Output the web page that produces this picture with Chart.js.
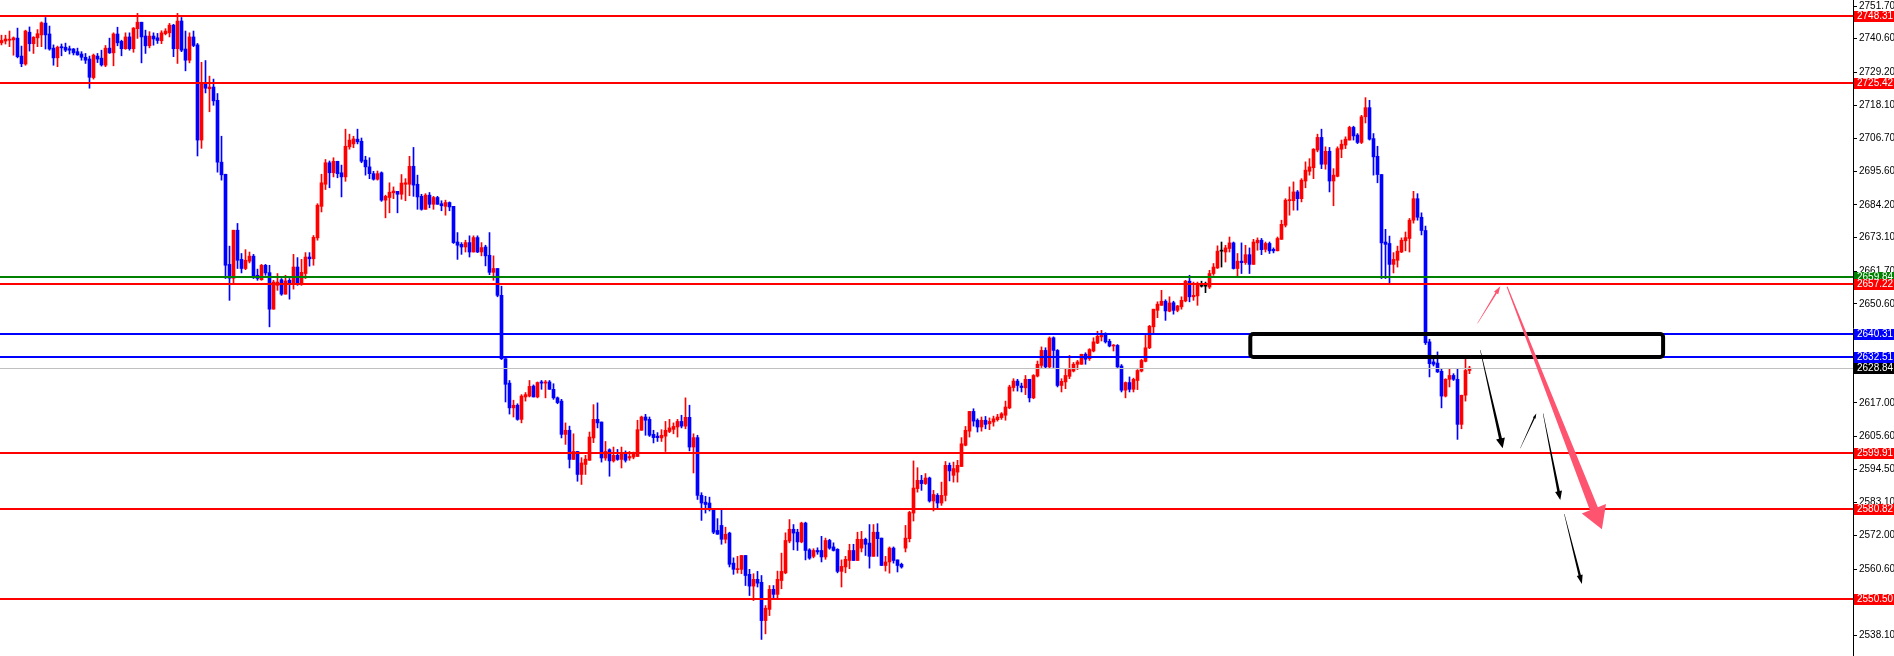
<!DOCTYPE html>
<html lang="en">
<head>
  <meta charset="UTF-8" />
  <title>XAUUSD H1</title>
  <script src="https://cdn.jsdelivr.net/npm/chart.js@4.4.0/dist/chart.umd.min.js"></script>
  <style>
    html, body { margin: 0; padding: 0; background: #ffffff; }
    #wrap { width: 1894px; height: 656px; position: relative; }
  </style>
</head>
<body>
  <div id="wrap"><canvas id="chart"></canvas></div>
  <script>
    // candle values, one entry per bar
    const opens = [
      2739.2, 2739.8, 2740.1, 2740.2, 2740.8, 2734.7, 2732.0, 2742.8, 2738.9, 2740.9,
      2741.9, 2745.9, 2742.2, 2737.4, 2734.1, 2737.9, 2737.7, 2737.2, 2737.1, 2736.2,
      2735.4, 2734.3, 2733.7, 2727.4, 2734.7, 2734.0, 2731.6, 2737.4, 2735.8, 2742.2,
      2739.7, 2737.2, 2741.2, 2737.2, 2744.0, 2746.2, 2741.5, 2738.2, 2741.5, 2740.9,
      2739.9, 2742.3, 2742.6, 2745.2, 2737.2, 2746.6, 2737.1, 2733.3, 2741.2, 2738.5,
      2706.2, 2725.4, 2723.6, 2724.2, 2719.7, 2698.7, 2694.6, 2664.0, 2659.3, 2675.6,
      2665.7, 2662.6, 2665.1, 2666.8, 2660.3, 2658.8, 2663.7, 2661.2, 2648.8, 2656.9,
      2658.8, 2653.9, 2658.6, 2657.3, 2663.1, 2657.3, 2660.9, 2666.5, 2665.9, 2673.0,
      2683.7, 2691.2, 2698.5, 2695.1, 2699.0, 2695.1, 2693.7, 2703.9, 2704.9, 2706.5,
      2705.8, 2699.4, 2697.1, 2694.8, 2692.9, 2695.1, 2685.8, 2686.7, 2688.3, 2688.8,
      2687.8, 2691.2, 2691.2, 2697.3, 2691.2, 2687.1, 2682.7, 2687.5, 2684.4, 2686.7,
      2684.6, 2683.7, 2685.0, 2683.7, 2671.6, 2670.8, 2669.9, 2671.4, 2668.2, 2673.1,
      2668.2, 2669.9, 2667.1, 2661.3, 2662.6, 2653.5, 2632.0, 2623.7, 2615.3, 2616.2,
      2611.4, 2619.0, 2619.3, 2622.7, 2619.0, 2624.1, 2623.7, 2624.1, 2621.6, 2618.7,
      2617.6, 2606.3, 2607.7, 2597.8, 2600.5, 2592.7, 2596.1, 2597.5, 2605.1, 2611.4,
      2610.5, 2598.3, 2601.1, 2597.3, 2599.2, 2597.8, 2600.1, 2598.3, 2598.6, 2598.8,
      2607.7, 2612.2, 2611.4, 2606.3, 2605.7, 2605.1, 2605.7, 2607.3, 2608.0, 2608.8,
      2610.7, 2609.1, 2612.1, 2602.0, 2605.2, 2585.6, 2583.3, 2583.0, 2581.1, 2573.7,
      2575.4, 2570.7, 2572.8, 2562.6, 2560.4, 2560.5, 2565.2, 2558.8, 2554.8, 2557.1,
      2556.1, 2543.1, 2546.9, 2553.7, 2552.0, 2556.7, 2559.3, 2570.1, 2574.1, 2573.1,
      2569.8, 2576.2, 2567.1, 2564.9, 2566.9, 2566.9, 2564.7, 2570.3, 2568.1, 2567.3,
      2559.8, 2561.3, 2563.5, 2566.9, 2563.5, 2567.7, 2570.7, 2569.4, 2564.9, 2573.1,
      2571.1, 2561.8, 2563.0, 2567.7, 2563.7, 2562.2, 2567.7, 2570.9, 2579.6, 2587.9,
      2590.7, 2589.6, 2591.5, 2583.7, 2585.6, 2583.0, 2585.6, 2595.8, 2592.4, 2593.5,
      2595.4, 2602.6, 2607.4, 2614.1, 2611.1, 2608.8, 2611.1, 2609.9, 2610.5, 2611.3,
      2612.0, 2612.8, 2615.3, 2622.2, 2624.4, 2622.7, 2622.1, 2625.0, 2618.7, 2626.1,
      2629.7, 2634.8, 2629.2, 2639.1, 2634.8, 2622.9, 2624.1, 2626.0, 2627.8, 2630.1,
      2630.1, 2633.5, 2632.0, 2634.6, 2637.3, 2639.4, 2640.5, 2637.9, 2636.3, 2636.5,
      2629.5, 2621.3, 2623.9, 2621.6, 2624.6, 2627.8, 2631.1, 2635.7, 2642.8, 2648.4,
      2650.1, 2651.5, 2648.1, 2651.0, 2648.4, 2649.6, 2651.6, 2658.3, 2653.0, 2653.3,
      2656.6, 2656.6, 2656.3, 2660.9, 2662.8, 2668.5, 2668.2, 2669.4, 2671.3, 2662.6,
      2665.1, 2664.6, 2667.3, 2664.0, 2671.3, 2672.2, 2669.1, 2671.1, 2669.1, 2668.6,
      2672.5, 2677.3, 2685.6, 2685.6, 2688.6, 2686.3, 2692.3, 2695.6, 2696.8, 2702.8,
      2707.1, 2698.0, 2702.4, 2692.3, 2693.9, 2703.1, 2704.5, 2706.2, 2710.5, 2707.9,
      2705.4, 2714.1, 2717.2, 2706.7, 2700.7, 2694.5, 2671.6, 2671.1, 2664.0, 2665.4,
      2668.2, 2672.0, 2672.8, 2679.0, 2686.3, 2680.0, 2675.5, 2637.7, 2630.9, 2630.5,
      2627.7, 2619.3, 2625.0, 2626.3, 2625.0, 2609.7, 2619.6, 2628.0
    ];
    const highs = [
      2741.8, 2741.8, 2743.2, 2741.2, 2744.2, 2738.1, 2743.5, 2744.6, 2741.3, 2743.7,
      2746.3, 2747.8, 2744.9, 2738.5, 2738.1, 2738.8, 2739.1, 2738.1, 2737.3, 2737.4,
      2736.2, 2735.6, 2734.7, 2735.4, 2735.6, 2736.7, 2738.3, 2740.8, 2742.6, 2744.5,
      2740.1, 2742.6, 2742.6, 2744.4, 2749.2, 2746.2, 2743.5, 2743.0, 2742.6, 2742.4,
      2743.3, 2744.0, 2745.8, 2745.5, 2749.2, 2747.8, 2743.2, 2742.6, 2743.2, 2739.0,
      2732.6, 2733.2, 2727.9, 2726.9, 2722.0, 2707.5, 2694.6, 2670.2, 2675.6, 2677.9,
      2667.7, 2669.0, 2668.2, 2667.4, 2662.4, 2664.0, 2664.0, 2663.7, 2658.6, 2660.9,
      2659.2, 2660.3, 2659.2, 2667.4, 2666.3, 2665.7, 2668.0, 2668.0, 2673.8, 2684.6,
      2694.6, 2699.6, 2699.1, 2700.2, 2699.0, 2697.7, 2709.9, 2708.2, 2707.5, 2709.9,
      2706.9, 2700.7, 2700.2, 2695.6, 2695.7, 2695.4, 2687.5, 2691.7, 2690.3, 2688.8,
      2694.5, 2693.1, 2700.7, 2703.7, 2694.3, 2687.8, 2688.0, 2688.4, 2687.1, 2687.1,
      2685.6, 2685.8, 2685.2, 2683.7, 2674.8, 2671.4, 2672.2, 2673.7, 2673.7, 2673.7,
      2671.4, 2670.5, 2674.8, 2666.9, 2662.6, 2656.6, 2632.0, 2624.6, 2617.9, 2616.7,
      2619.8, 2620.5, 2624.6, 2623.1, 2624.1, 2624.6, 2624.6, 2624.6, 2623.5, 2619.0,
      2618.2, 2610.2, 2609.1, 2606.5, 2600.5, 2598.4, 2599.2, 2607.1, 2616.4, 2617.0,
      2610.5, 2603.9, 2601.4, 2602.0, 2601.2, 2602.0, 2600.7, 2600.5, 2600.3, 2611.1,
      2612.5, 2613.1, 2612.2, 2607.7, 2606.9, 2607.9, 2610.7, 2611.4, 2610.2, 2611.4,
      2612.8, 2618.7, 2616.2, 2606.5, 2606.0, 2586.5, 2585.3, 2585.0, 2581.1, 2577.7,
      2580.7, 2574.8, 2573.1, 2564.4, 2564.9, 2565.2, 2565.2, 2560.5, 2559.0, 2559.8,
      2558.4, 2548.2, 2555.0, 2555.0, 2559.9, 2566.0, 2572.9, 2577.4, 2575.7, 2574.1,
      2576.5, 2576.5, 2567.5, 2567.5, 2567.8, 2571.7, 2571.1, 2570.7, 2569.5, 2567.5,
      2563.7, 2564.9, 2569.0, 2569.0, 2573.1, 2573.4, 2571.1, 2575.7, 2575.7, 2576.0,
      2571.1, 2564.9, 2568.1, 2568.1, 2563.7, 2562.6, 2575.4, 2580.2, 2597.3, 2595.0,
      2592.4, 2593.0, 2591.8, 2587.3, 2586.2, 2590.1, 2597.1, 2596.6, 2596.9, 2597.5,
      2605.2, 2609.0, 2614.1, 2615.0, 2611.6, 2612.2, 2612.4, 2611.9, 2612.5, 2613.1,
      2613.7, 2617.6, 2623.0, 2625.2, 2625.0, 2623.7, 2626.3, 2625.0, 2626.6, 2631.2,
      2636.0, 2635.7, 2639.4, 2639.4, 2635.1, 2625.2, 2628.4, 2633.1, 2630.7, 2631.4,
      2633.5, 2634.0, 2635.4, 2639.1, 2641.3, 2641.6, 2640.8, 2638.6, 2636.8, 2636.8,
      2630.0, 2624.1, 2625.8, 2625.4, 2628.3, 2631.8, 2639.9, 2643.3, 2648.8, 2651.3,
      2655.2, 2652.0, 2653.0, 2651.5, 2650.1, 2653.0, 2658.6, 2660.3, 2658.0, 2658.0,
      2658.3, 2658.0, 2662.0, 2664.3, 2670.3, 2671.6, 2670.5, 2673.3, 2671.6, 2667.7,
      2671.3, 2670.5, 2669.6, 2672.5, 2673.0, 2672.8, 2671.6, 2671.6, 2669.6, 2673.3,
      2679.0, 2686.3, 2690.3, 2692.0, 2689.1, 2693.1, 2698.8, 2699.9, 2703.3, 2708.2,
      2709.9, 2703.9, 2703.7, 2696.5, 2703.9, 2706.2, 2707.3, 2710.9, 2710.9, 2708.4,
      2714.6, 2720.6, 2719.7, 2708.4, 2704.1, 2694.5, 2675.9, 2673.6, 2668.0, 2670.2,
      2673.0, 2675.0, 2679.6, 2688.8, 2688.0, 2681.5, 2677.0, 2638.6, 2632.6, 2634.3,
      2628.4, 2625.2, 2628.6, 2626.9, 2628.4, 2619.6, 2631.8, 2629.4
    ];
    const lows = [
      2738.5, 2738.8, 2737.9, 2735.0, 2734.1, 2731.1, 2731.6, 2736.4, 2735.6, 2737.9,
      2737.9, 2737.1, 2736.7, 2731.6, 2731.1, 2734.8, 2736.2, 2735.4, 2735.1, 2735.0,
      2733.3, 2732.2, 2723.8, 2726.9, 2732.5, 2731.3, 2731.1, 2735.6, 2731.4, 2738.2,
      2734.8, 2737.0, 2736.7, 2736.0, 2740.7, 2732.4, 2735.6, 2737.5, 2738.4, 2739.0,
      2738.9, 2741.9, 2741.2, 2734.5, 2732.2, 2736.2, 2729.7, 2732.4, 2737.9, 2700.8,
      2703.4, 2722.2, 2715.8, 2718.0, 2695.3, 2692.6, 2659.2, 2651.8, 2657.3, 2662.6,
      2661.1, 2662.2, 2664.5, 2659.2, 2658.6, 2658.6, 2660.3, 2642.8, 2648.8, 2655.2,
      2653.5, 2653.9, 2652.2, 2655.6, 2656.9, 2656.9, 2659.2, 2663.4, 2663.7, 2672.2,
      2681.8, 2689.4, 2690.0, 2693.7, 2693.4, 2686.9, 2692.2, 2703.1, 2703.6, 2704.9,
      2698.5, 2694.3, 2693.1, 2692.6, 2692.6, 2685.4, 2679.8, 2681.5, 2686.3, 2681.5,
      2686.1, 2685.6, 2687.3, 2687.1, 2682.7, 2682.4, 2682.7, 2683.2, 2682.7, 2684.4,
      2682.2, 2680.7, 2682.2, 2671.1, 2665.7, 2667.4, 2668.2, 2666.5, 2668.2, 2668.0,
      2666.9, 2663.5, 2660.5, 2658.6, 2653.0, 2631.7, 2617.3, 2613.2, 2612.2, 2611.1,
      2610.2, 2617.6, 2619.0, 2619.0, 2618.7, 2621.6, 2618.7, 2621.6, 2618.2, 2616.7,
      2605.1, 2602.9, 2594.9, 2597.8, 2590.4, 2589.3, 2592.7, 2597.5, 2603.5, 2608.5,
      2596.9, 2597.5, 2592.1, 2596.9, 2597.5, 2594.9, 2596.9, 2597.5, 2598.0, 2598.8,
      2607.7, 2606.0, 2605.6, 2603.4, 2603.9, 2603.9, 2600.5, 2606.9, 2606.5, 2605.4,
      2608.5, 2608.2, 2600.7, 2593.2, 2584.2, 2577.1, 2579.6, 2580.3, 2572.6, 2572.4,
      2569.0, 2569.4, 2561.3, 2558.8, 2559.2, 2559.0, 2555.0, 2551.6, 2549.9, 2554.5,
      2536.7, 2538.6, 2544.8, 2550.8, 2550.3, 2553.9, 2559.0, 2569.5, 2567.1, 2566.9,
      2569.5, 2563.7, 2563.9, 2564.4, 2565.6, 2563.0, 2563.9, 2567.3, 2566.7, 2559.3,
      2554.5, 2559.3, 2560.7, 2563.5, 2563.5, 2566.4, 2565.2, 2560.9, 2564.9, 2564.9,
      2561.8, 2559.9, 2559.2, 2562.6, 2559.6, 2560.9, 2566.4, 2569.8, 2576.9, 2586.7,
      2587.3, 2589.3, 2583.3, 2580.3, 2581.4, 2582.2, 2583.7, 2590.5, 2590.1, 2590.1,
      2595.4, 2602.4, 2605.4, 2609.1, 2607.1, 2607.4, 2608.2, 2607.9, 2609.1, 2610.8,
      2611.4, 2611.1, 2615.0, 2621.0, 2621.0, 2620.7, 2619.8, 2617.3, 2618.4, 2625.8,
      2629.0, 2628.6, 2628.6, 2629.0, 2622.4, 2620.7, 2621.8, 2625.2, 2627.5, 2628.3,
      2630.1, 2630.1, 2631.4, 2634.3, 2637.1, 2638.0, 2637.3, 2636.0, 2634.6, 2629.0,
      2620.7, 2618.7, 2620.7, 2620.7, 2621.5, 2627.5, 2630.9, 2635.4, 2640.7, 2645.9,
      2650.1, 2645.0, 2647.9, 2647.1, 2647.9, 2648.8, 2651.3, 2651.3, 2651.8, 2650.1,
      2656.3, 2654.4, 2655.8, 2660.3, 2662.6, 2663.1, 2664.8, 2668.2, 2662.4, 2660.1,
      2660.9, 2664.0, 2660.9, 2664.0, 2668.8, 2667.3, 2668.2, 2667.7, 2667.9, 2668.6,
      2672.5, 2676.7, 2680.7, 2682.4, 2682.4, 2685.2, 2690.0, 2694.3, 2693.1, 2702.2,
      2696.5, 2696.3, 2688.6, 2683.9, 2693.7, 2700.2, 2703.3, 2706.2, 2706.2, 2705.0,
      2705.0, 2712.0, 2706.2, 2694.3, 2691.7, 2659.2, 2659.2, 2657.7, 2661.1, 2663.1,
      2668.0, 2668.6, 2668.2, 2678.0, 2679.0, 2674.0, 2636.8, 2625.8, 2629.5, 2627.3,
      2615.3, 2619.0, 2622.4, 2624.6, 2604.6, 2608.2, 2617.6, 2626.9
    ];
    const closes = [
      2740.0, 2740.5, 2740.3, 2740.9, 2734.5, 2732.1, 2743.2, 2738.9, 2741.1, 2742.3,
      2746.0, 2741.9, 2737.1, 2734.1, 2737.7, 2737.5, 2736.7, 2736.7, 2735.8, 2735.1,
      2734.3, 2733.3, 2727.5, 2735.0, 2733.7, 2731.7, 2737.4, 2735.8, 2742.2, 2739.2,
      2737.2, 2741.2, 2737.2, 2744.2, 2746.2, 2741.2, 2738.2, 2741.5, 2740.5, 2740.0,
      2742.6, 2743.2, 2745.2, 2737.2, 2746.6, 2736.7, 2733.3, 2741.2, 2738.3, 2706.2,
      2725.4, 2723.8, 2724.2, 2719.5, 2698.7, 2694.4, 2663.7, 2659.3, 2675.6, 2665.4,
      2662.6, 2665.4, 2666.8, 2660.1, 2659.2, 2663.7, 2661.1, 2648.8, 2658.0, 2658.0,
      2653.9, 2658.4, 2657.5, 2663.1, 2657.3, 2661.3, 2666.5, 2665.9, 2673.2, 2684.1,
      2691.7, 2698.5, 2695.1, 2699.0, 2694.8, 2693.7, 2704.1, 2706.2, 2706.6, 2705.6,
      2699.0, 2697.1, 2694.8, 2692.9, 2694.8, 2685.8, 2687.1, 2688.5, 2688.9, 2687.8,
      2691.6, 2691.7, 2697.3, 2690.9, 2686.9, 2682.7, 2687.5, 2684.4, 2686.7, 2684.4,
      2683.9, 2685.0, 2683.5, 2671.4, 2670.5, 2669.9, 2671.4, 2668.2, 2673.1, 2668.2,
      2669.7, 2666.9, 2661.3, 2662.6, 2653.5, 2632.0, 2623.3, 2615.3, 2616.2, 2611.4,
      2619.3, 2619.8, 2622.6, 2619.0, 2623.9, 2623.7, 2624.1, 2621.6, 2618.7, 2617.1,
      2606.3, 2607.7, 2597.8, 2600.5, 2592.7, 2596.6, 2597.9, 2605.4, 2611.4, 2610.2,
      2598.3, 2600.5, 2597.3, 2599.2, 2597.8, 2599.7, 2597.5, 2598.8, 2599.7, 2607.9,
      2612.2, 2611.1, 2606.0, 2605.2, 2605.2, 2606.0, 2607.7, 2608.5, 2609.0, 2610.7,
      2609.1, 2612.1, 2602.0, 2605.2, 2585.6, 2583.0, 2582.5, 2581.1, 2573.1, 2572.4,
      2570.7, 2572.4, 2562.2, 2560.5, 2560.7, 2565.2, 2558.4, 2554.8, 2557.1, 2555.8,
      2543.1, 2547.3, 2553.7, 2552.0, 2557.1, 2559.8, 2570.3, 2574.1, 2572.8, 2569.8,
      2576.2, 2566.9, 2564.3, 2566.9, 2566.4, 2564.7, 2570.3, 2567.7, 2566.9, 2559.8,
      2561.5, 2563.9, 2566.9, 2563.5, 2570.7, 2570.7, 2569.0, 2564.9, 2573.1, 2570.9,
      2561.8, 2563.0, 2567.7, 2563.5, 2561.8, 2561.3, 2571.1, 2579.8, 2588.1, 2590.7,
      2589.6, 2591.5, 2583.7, 2585.9, 2583.0, 2585.6, 2595.8, 2593.9, 2594.7, 2595.8,
      2603.1, 2607.7, 2614.1, 2610.8, 2608.8, 2611.1, 2609.7, 2610.7, 2611.6, 2612.2,
      2613.3, 2615.6, 2622.4, 2624.4, 2622.9, 2622.2, 2625.0, 2618.7, 2626.3, 2630.1,
      2634.8, 2629.2, 2639.0, 2634.8, 2622.9, 2624.3, 2626.3, 2628.3, 2630.1, 2630.9,
      2633.5, 2631.8, 2635.1, 2637.7, 2639.6, 2639.9, 2637.7, 2636.3, 2636.5, 2629.2,
      2621.3, 2623.9, 2621.6, 2625.0, 2628.0, 2631.4, 2635.7, 2643.0, 2648.8, 2650.5,
      2651.5, 2648.2, 2650.9, 2648.4, 2649.9, 2651.8, 2658.3, 2653.0, 2653.5, 2657.1,
      2656.6, 2656.6, 2660.9, 2663.1, 2668.5, 2668.5, 2669.6, 2671.3, 2662.6, 2665.1,
      2664.6, 2667.3, 2664.0, 2671.6, 2672.2, 2669.0, 2671.1, 2668.6, 2668.6, 2672.8,
      2677.6, 2685.8, 2686.0, 2688.6, 2686.3, 2692.6, 2696.0, 2697.1, 2703.1, 2707.1,
      2698.0, 2702.4, 2692.3, 2694.3, 2703.3, 2704.8, 2706.5, 2710.5, 2707.6, 2705.4,
      2714.1, 2717.2, 2706.5, 2700.5, 2694.5, 2671.3, 2670.8, 2664.0, 2665.7, 2668.5,
      2672.2, 2673.1, 2679.0, 2686.3, 2680.0, 2675.5, 2637.4, 2630.3, 2630.1, 2627.5,
      2619.3, 2625.0, 2626.3, 2625.0, 2609.7, 2619.6, 2628.0, 2628.8
    ];

    // price axis
    const yTicks = [2751.70, 2740.60, 2729.20, 2718.10, 2706.70, 2695.60, 2684.20, 2673.10, 2661.70, 2650.60,
                    2639.20, 2628.10, 2617.00, 2605.60, 2594.50, 2583.10, 2572.00, 2560.60, 2549.50, 2538.10];
    const priceMin = 2531.08;
    const priceMax = 2753.74;

    // horizontal levels
    const greenLevels = [2659.84];
    const redLevels = [2748.31, 2725.42, 2657.22, 2599.91, 2580.82, 2550.50];
    const blueLevels = [2640.31, 2632.51];
    const bidPrice = 2628.84;

    // drawn objects: zone box and arrows, in bar index / price units
    const zoneBox = { from: 312.2, to: 415.4, top: 2640.4, bottom: 2632.6 };
    const arrows = [
      { from: [369.0, 2644.0], to: [374.7, 2656.6], w0: 0.4, w1: 1.6, head: 8, headW: 5, color: '#ff5470' },
      { from: [376.4, 2656.4], to: [400.1, 2574.1], w0: 1.0, w1: 8.5, head: 22, headW: 26, color: '#ff5470' },
      { from: [369.7, 2634.9], to: [375.3, 2601.6], w0: 0.4, w1: 3.0, head: 10, headW: 9, color: '#000000' },
      { from: [379.7, 2601.6], to: [383.7, 2613.4], w0: 0.3, w1: 1.4, head: 5, headW: 3, color: '#000000' },
      { from: [385.4, 2613.4], to: [389.7, 2584.0], w0: 0.4, w1: 2.6, head: 9, headW: 7, color: '#000000' },
      { from: [390.7, 2579.3], to: [395.1, 2555.5], w0: 0.4, w1: 2.4, head: 9, headW: 6, color: '#000000' }
    ];

    const RED = '#ff0000', BLUE = '#0000ff', GREEN = '#008000';
    const candleColors = closes.map((c, i) => c > opens[i] ? RED : (c < opens[i] ? BLUE : '#000000'));
    const labelFont = '10px "Liberation Sans", Arial, sans-serif';

    function taperArrow(ctx, x0, y0, x1, y1, w0, w1, headLen, headW) {
      const dx = x1 - x0, dy = y1 - y0, len = Math.hypot(dx, dy);
      const ux = dx / len, uy = dy / len, nx = -uy, ny = ux;
      const bx = x1 - ux * headLen, by = y1 - uy * headLen;
      ctx.beginPath();
      ctx.moveTo(x0 + nx * w0 / 2, y0 + ny * w0 / 2);
      ctx.lineTo(bx + nx * w1 / 2, by + ny * w1 / 2);
      ctx.lineTo(bx + nx * headW / 2, by + ny * headW / 2);
      ctx.lineTo(x1, y1);
      ctx.lineTo(bx - nx * headW / 2, by - ny * headW / 2);
      ctx.lineTo(bx - nx * w1 / 2, by - ny * w1 / 2);
      ctx.lineTo(x0 - nx * w0 / 2, y0 - ny * w0 / 2);
      ctx.closePath();
      ctx.fill();
    }

    const overlay = {
      id: 'overlay',
      afterDatasetsDraw(chart) {
        const { ctx, chartArea: a, scales: { x, y } } = chart;
        ctx.save();
        ctx.beginPath();
        ctx.rect(a.left, a.top, a.right - a.left, a.bottom - a.top);
        ctx.clip();

        ctx.fillStyle = '#c0c0c0';
        ctx.fillRect(a.left, Math.round(y.getPixelForValue(bidPrice)), a.right - a.left, 1);
        const hline = (p, col) => {
          ctx.fillStyle = col;
          ctx.fillRect(a.left, Math.round(y.getPixelForValue(p)) - 1, a.right - a.left, 2);
        };
        greenLevels.forEach(p => hline(p, GREEN));
        redLevels.forEach(p => hline(p, RED));
        blueLevels.forEach(p => hline(p, BLUE));

        // zone box
        const bx0 = x.getPixelForValue(zoneBox.from), bx1 = x.getPixelForValue(zoneBox.to);
        const by0 = y.getPixelForValue(zoneBox.top), by1 = y.getPixelForValue(zoneBox.bottom);
        ctx.strokeStyle = '#000000';
        ctx.lineWidth = 4;
        ctx.beginPath();
        if (ctx.roundRect) ctx.roundRect(bx0, by0, bx1 - bx0, by1 - by0, 3);
        else ctx.rect(bx0, by0, bx1 - bx0, by1 - by0);
        ctx.stroke();

        arrows.forEach(ar => {
          ctx.fillStyle = ar.color;
          taperArrow(ctx,
            x.getPixelForValue(ar.from[0]), y.getPixelForValue(ar.from[1]),
            x.getPixelForValue(ar.to[0]), y.getPixelForValue(ar.to[1]),
            ar.w0, ar.w1, ar.head, ar.headW);
        });
        ctx.restore();
      },
      afterDraw(chart) {
        const { ctx, chartArea: a, scales: { y } } = chart;
        const left = a.right + 1, w = chart.width - left;
        const tag = (p, bg) => {
          const py = y.getPixelForValue(p);
          ctx.fillStyle = bg;
          ctx.fillRect(left, Math.round(py) - 5, w, 11);
          ctx.fillStyle = '#ffffff';
          ctx.font = labelFont;
          ctx.textBaseline = 'middle';
          ctx.textAlign = 'left';
          ctx.fillText(p.toFixed(2), left + 3, Math.round(py) + 0.5);
        };
        ctx.save();
        tag(redLevels[0], RED);
        tag(redLevels[1], RED);
        greenLevels.forEach(p => tag(p, GREEN));
        tag(redLevels[2], RED);
        blueLevels.forEach(p => tag(p, BLUE));
        tag(bidPrice, '#000000');
        redLevels.slice(3).forEach(p => tag(p, RED));
        ctx.restore();
      }
    };

    new Chart(document.getElementById('chart'), {
      type: 'bar',
      data: {
        datasets: [
          {
            label: 'wick',
            data: lows.map((l, i) => ({ x: i, y: [l, highs[i]] })),
            backgroundColor: candleColors,
            barThickness: 1,
            minBarLength: 1,
            borderWidth: 0,
            grouped: false
          },
          {
            label: 'body',
            data: opens.map((o, i) => ({ x: i, y: [o, closes[i]] })),
            backgroundColor: candleColors,
            barThickness: 3,
            minBarLength: 1,
            borderWidth: 0,
            grouped: false
          }
        ]
      },
      options: {
        responsive: true,
        maintainAspectRatio: false,
        animation: false,
        events: [],
        layout: { padding: 0 },
        plugins: { legend: { display: false }, tooltip: { enabled: false } },
        scales: {
          x: {
            type: 'linear',
            display: false,
            offset: false,
            min: -0.375,
            max: 462.875
          },
          y: {
            type: 'linear',
            position: 'right',
            min: priceMin,
            max: priceMax,
            grid: { display: true, drawOnChartArea: false, drawTicks: true, tickLength: 4, color: '#000000' },
            border: { display: true, color: '#000000', width: 1 },
            ticks: {
              autoSkip: false,
              padding: 2,
              color: '#000000',
              font: { family: '"Liberation Sans", Arial, sans-serif', size: 10 },
              callback: v => Number(v).toFixed(2)
            },
            afterBuildTicks: s => { s.ticks = yTicks.map(v => ({ value: v })); },
            afterFit: s => { s.width = 41; s.paddingTop = 0; s.paddingBottom = 0; }
          }
        }
      },
      plugins: [overlay]
    });
  </script>
</body>
</html>
